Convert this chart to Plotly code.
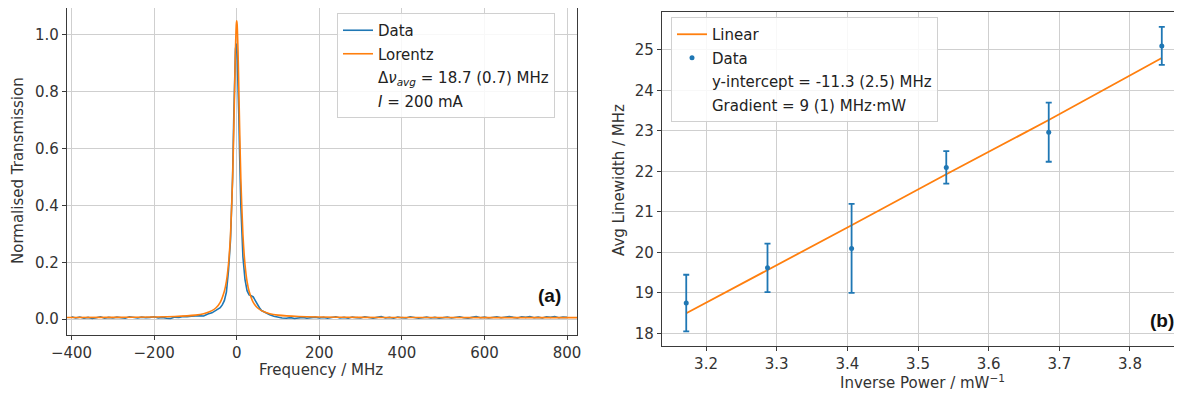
import plotly.graph_objects as go

# ---------------- Panel (a): transmission spectrum ----------------
data_freq = [-400, -390, -380, -370, -360, -350, -340, -330, -320, -310, -300, -290, -280, -270, -260,
             -250, -240, -230, -220, -210, -200, -190, -180, -170, -160, -150, -140, -130, -120, -110,
             -100, -90, -80, -70, -60, -50, -40, -35, -30, -25, -20, -15, -10, -7, -5, -3, -1, 0, 1, 3,
             5, 7, 10, 15, 20, 25, 30, 35, 40, 45, 50, 55, 60, 70, 80, 90, 100,
             110, 120, 130, 140, 150, 160, 170, 180, 190, 200, 210, 220, 230, 240, 250, 260, 270, 280,
             290, 300, 310, 320, 330, 340, 350, 360, 370, 380, 390, 400, 410, 420, 430, 440, 450, 460,
             470, 480, 490, 500, 510, 520, 530, 540, 550, 560, 570, 580, 590, 600, 610, 620, 630, 640,
             650, 660, 670, 680, 690, 700, 710, 720, 730, 740, 750, 760, 770, 780, 790, 800]
data_trans = [0.008, 0.004, 0.007, 0.003, 0.006, 0.002, 0.005, 0.008, 0.003, 0.006, 0.004, 0.007, 0.005,
              0.003, 0.008, 0.006, 0.004, 0.007, 0.005, 0.006, 0.008, 0.004, 0.006, 0.003, 0.002, 0.007,
              0.006, 0.009, 0.008, 0.010, 0.012, 0.012, 0.011, 0.018, 0.022, 0.030, 0.040, 0.050, 0.065,
              0.095, 0.17, 0.28, 0.50, 0.72, 0.88, 0.95, 0.97, 0.96, 0.93, 0.85,
              0.72, 0.58, 0.40, 0.22, 0.14, 0.10, 0.085, 0.082, 0.078, 0.065, 0.050, 0.040, 0.030, 0.022,
              0.015, 0.010, 0.006,
              0.004, 0.003, 0.005, 0.002, 0.004, 0.006, 0.003, 0.005, 0.007, 0.004, 0.006, 0.003, 0.005,
              0.008, 0.004, 0.006, 0.003, 0.007, 0.005, 0.004, 0.008, 0.005, 0.003, 0.006, 0.009, 0.004,
              0.006, 0.003, 0.007, 0.005, 0.004, 0.008, 0.006, 0.003, 0.005, 0.007, 0.004, 0.006, 0.003,
              0.005, 0.007, 0.004, 0.006, 0.008, 0.005, 0.003, 0.006, 0.009, 0.005, 0.007, 0.004, 0.006,
              0.008, 0.005, 0.007, 0.009, 0.006, 0.004, 0.008, 0.006, 0.009, 0.005, 0.007, 0.004, 0.008,
              0.006, 0.009, 0.005, 0.007, 0.006]

lor_freq = [-411, -300, -200, -150, -100, -80, -60, -50, -40, -30, -25, -20, -15, -10, -7, -5, -3, -1, 0,
            1, 3, 5, 7, 10, 15, 20, 25, 30, 40, 50, 60, 80, 100, 150, 200, 300, 400, 600, 824]
lor_trans = [0.0056, 0.006, 0.0073, 0.009, 0.014, 0.019, 0.0298, 0.040, 0.059, 0.098, 0.133, 0.193, 0.298,
             0.493, 0.675, 0.818, 0.953, 1.038, 1.05,
             1.038, 0.953, 0.818, 0.675, 0.493, 0.298, 0.193, 0.133, 0.098, 0.059, 0.040, 0.0298, 0.019,
             0.014, 0.009, 0.0073, 0.006, 0.0056, 0.0053, 0.0052]

# ---------------- Panel (b): linewidth vs inverse power ----------------
inv_power = [3.172, 3.287, 3.406, 3.540, 3.685, 3.845]
linewidth = [18.75, 19.62, 20.10, 22.10, 22.97, 25.10]
linewidth_err = [0.70, 0.60, 1.10, 0.40, 0.73, 0.47]
linear_fit = [18.50, 19.56, 20.67, 21.93, 23.27, 24.80]

BLUE = "#1f77b4"
ORANGE = "#ff7f0e"
GRID = "#cfcfcf"
AXC = "#3a3a3a"
TXT = "#333333"
FONT = "DejaVu Sans"
FS = 15

OFF = 8  # page body margin
W, H = 1182 - 2 * OFF, 399 - 2 * OFF
def px(x):
    return (x - OFF) / W
def py(y):
    return 1 - (y - OFF) / H

fig = go.Figure()

fig.add_trace(go.Scatter(x=data_freq, y=data_trans, mode="lines", name="Data",
                         line=dict(color=BLUE, width=1.6), xaxis="x", yaxis="y",
                         legend="legend", legendgroup="a1", legendrank=1))
fig.add_trace(go.Scatter(x=lor_freq, y=lor_trans, mode="lines", name="Lorentz",
                         line=dict(color=ORANGE, width=1.6, shape="spline", smoothing=0.6),
                         xaxis="x", yaxis="y", legend="legend", legendgroup="a2", legendrank=2))
fig.add_trace(go.Scatter(x=[None], y=[None], mode="lines",
                         name="Δ<i>ν</i><sub><i>avg</i></sub> = 18.7 (0.7) MHz",
                         line=dict(color="rgba(0,0,0,0)", width=0), xaxis="x", yaxis="y",
                         legend="legend", legendgroup="a3", legendrank=3))
fig.add_trace(go.Scatter(x=[None], y=[None], mode="lines", name="<i>I</i> = 200 mA",
                         line=dict(color="rgba(0,0,0,0)", width=0), xaxis="x", yaxis="y",
                         legend="legend", legendgroup="a4", legendrank=4))

fig.add_trace(go.Scatter(x=inv_power, y=linear_fit, mode="lines", name="Linear",
                         line=dict(color=ORANGE, width=1.8), xaxis="x2", yaxis="y2",
                         legend="legend2", legendgroup="b1", legendrank=1))
fig.add_trace(go.Scatter(x=inv_power, y=linewidth, mode="markers", name="Data",
                         marker=dict(color=BLUE, size=5),
                         error_y=dict(type="data", array=linewidth_err, color=BLUE, thickness=1.8, width=3),
                         xaxis="x2", yaxis="y2", legend="legend2", legendgroup="b2", legendrank=2))
fig.add_trace(go.Scatter(x=[None], y=[None], mode="lines", name="y-intercept = -11.3 (2.5) MHz",
                         line=dict(color="rgba(0,0,0,0)", width=0), xaxis="x2", yaxis="y2",
                         legend="legend2", legendgroup="b3", legendrank=3))
fig.add_trace(go.Scatter(x=[None], y=[None], mode="lines", name="Gradient = 9 (1) MHz·mW",
                         line=dict(color="rgba(0,0,0,0)", width=0), xaxis="x2", yaxis="y2",
                         legend="legend2", legendgroup="b4", legendrank=4))

axis_common = dict(showgrid=True, gridcolor=GRID, gridwidth=1.2, zeroline=False,
                   showline=True, linecolor=AXC, linewidth=1.2, automargin=False,
                   ticks="outside", ticklen=4, tickcolor=AXC, tickwidth=1,
                   tickfont=dict(family=FONT, size=FS, color=TXT))

legend_common = dict(bgcolor="rgba(255,255,255,0.85)", bordercolor="#d0d0d0", borderwidth=1,
                     font=dict(family=FONT, size=FS, color="#222"), traceorder="grouped",
                     tracegroupgap=1, xanchor="left", yanchor="top", itemwidth=30)

# right panel is cut by the image edge: its range continues to the last visible pixel
x2_right = 3.8736 - OFF / 706.7

fig.update_layout(
    width=W, height=H, margin=dict(l=0, r=0, t=0, b=0, autoexpand=False),
    paper_bgcolor="white", plot_bgcolor="white", showlegend=True,
    xaxis=dict(domain=[px(67), px(577)], range=[-411, 824], dtick=200, mirror=True,
               anchor="y", tickformat="d", **axis_common),
    yaxis=dict(domain=[py(335), py(8)], range=[-0.056, 1.095], dtick=0.2, tickformat=".1f",
               mirror=True, anchor="x", **axis_common),
    xaxis2=dict(domain=[px(662), 1.0], range=[3.1377, x2_right], dtick=0.1, tickformat=".1f",
                mirror=True, anchor="y2", **axis_common),
    yaxis2=dict(domain=[py(346), py(11.5)], range=[17.69, 25.95], dtick=1, mirror=False,
                anchor="x2", **axis_common),
    legend=dict(x=px(337), y=py(13), **legend_common),
    legend2=dict(x=px(671), y=py(17), **legend_common),
)

ann_font = dict(family=FONT, size=FS, color=TXT)
fig.add_annotation(text="Frequency / MHz", xref="paper", yref="paper", x=px(321), y=py(370),
                   showarrow=False, font=ann_font, xanchor="center", yanchor="middle")
fig.add_annotation(text="Normalised Transmission", xref="paper", yref="paper", x=px(18), y=py(171),
                   showarrow=False, font=ann_font, textangle=-90, xanchor="center", yanchor="middle")
fig.add_annotation(text="Inverse Power / mW<sup>−1</sup>", xref="paper", yref="paper", x=px(922), y=py(382),
                   showarrow=False, font=ann_font, xanchor="center", yanchor="middle")
fig.add_annotation(text="Avg Linewidth / MHz", xref="paper", yref="paper", x=px(619), y=py(180),
                   showarrow=False, font=ann_font, textangle=-90, xanchor="center", yanchor="middle")
fig.add_annotation(text="<b>(a)</b>", xref="paper", yref="paper", x=px(549), y=py(295),
                   showarrow=False, font=dict(family="Liberation Sans", size=19, color="#111"),
                   xanchor="center", yanchor="middle")
fig.add_annotation(text="<b>(b)</b>", xref="paper", yref="paper", x=px(1162), y=py(320),
                   showarrow=False, font=dict(family="Liberation Sans", size=19, color="#111"),
                   xanchor="center", yanchor="middle")

fig.write_html("out.html")
